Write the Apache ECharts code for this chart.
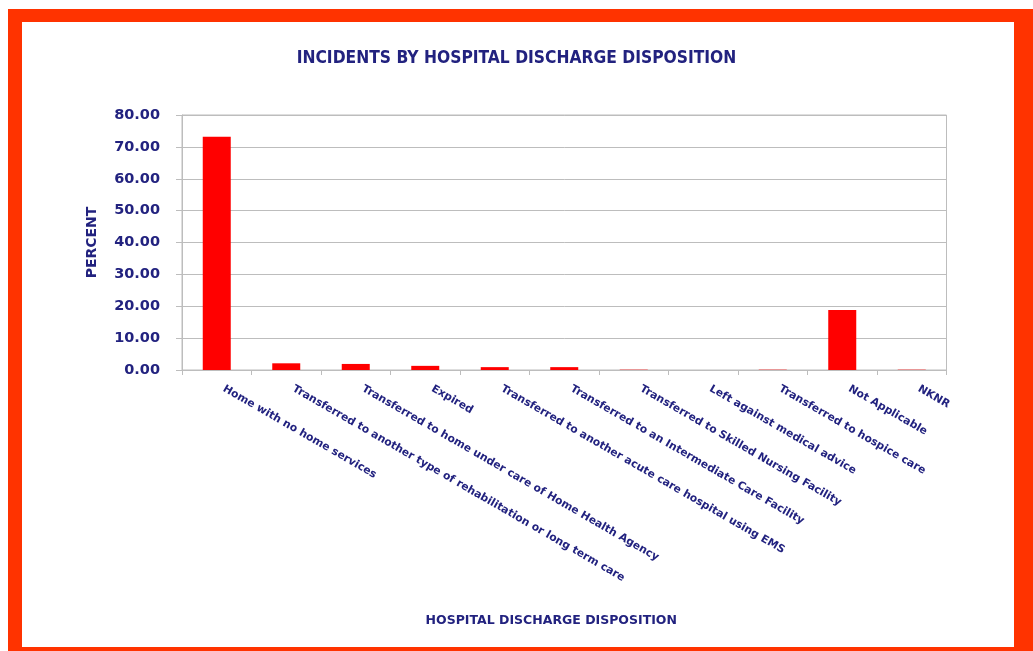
<!DOCTYPE html>
<html>
<head>
<meta charset="utf-8">
<script src="https://cdn.jsdelivr.net/npm/echarts@6/dist/echarts.min.js"></script>
<style>
  html, body { margin: 0; padding: 0; background: #ffffff; }
  #frame { position: absolute; left: 8px; top: 9px; width: 1025px; height: 642px; background: #ff3300; }
  #panel { position: absolute; left: 22px; top: 22px; width: 992px; height: 625px; background: #ffffff; }
  #chart { position: absolute; left: 0; top: 0; width: 1033px; height: 651px; }
</style>
</head>
<body>
<div id="frame"></div>
<div id="panel"></div>
<div id="chart"></div>
<script>
// Discharge disposition categories (x axis)
const categories = [
  'Home with no home services',
  'Transferred to another type of rehabilitation or long term care',
  'Transferred to home under care of Home Health Agency',
  'Expired',
  'Transferred to another acute care hospital using EMS',
  'Transferred to an Intermediate Care Facility',
  'Transferred to Skilled Nursing Facility',
  'Left against medical advice',
  'Transferred to hospice care',
  'Not Applicable',
  'NKNR'
];

// Percent of incidents per disposition
const percentValues = [73.2, 2.1, 1.9, 1.3, 0.9, 0.9, 0.1, 0, 0.1, 18.8, 0.1];

// Y axis range
const yMin = 0;
const yMax = 80;
const yStep = 10;

const navy = '#22227f';
const gridGray = '#bdbdbd';

const chart = echarts.init(document.getElementById('chart'), null, { renderer: 'canvas' });

chart.setOption({
  backgroundColor: 'transparent',
  animation: false,
  title: {
    text: 'INCIDENTS BY HOSPITAL DISCHARGE DISPOSITION',
    left: 'center',
    top: 45,
    textStyle: {
      fontFamily: 'DejaVu Sans Condensed',
      fontWeight: 'bold',
      fontSize: 17.3,
      color: navy
    }
  },
  grid: {
    left: 182,
    right: 86.5,
    top: 115,
    bottom: 281,
    show: true,
    borderColor: gridGray,
    borderWidth: 1,
    backgroundColor: '#ffffff'
  },
  xAxis: {
    type: 'category',
    data: categories,
    name: 'HOSPITAL DISCHARGE DISPOSITION',
    nameLocation: 'middle',
    nameGap: 244,
    nameTextStyle: {
      fontFamily: 'DejaVu Sans',
      fontWeight: 'bold',
      fontSize: 12.5,
      color: navy,
      padding: [0, 26, 0, 0]
    },
    axisLine: { lineStyle: { color: gridGray, width: 1 } },
    axisTick: { show: true, length: 5, lineStyle: { color: gridGray } },
    axisLabel: {
      interval: 0,
      rotate: -30,
      margin: 14,
      padding: [0, 0, 0, 8],
      fontFamily: 'DejaVu Sans',
      fontWeight: 'bold',
      fontSize: 10.8,
      color: navy
    }
  },
  yAxis: {
    type: 'value',
    min: yMin,
    max: yMax,
    interval: yStep,
    name: 'PERCENT',
    nameLocation: 'middle',
    nameRotate: 90,
    nameGap: 83,
    nameTextStyle: {
      fontFamily: 'DejaVu Sans',
      fontWeight: 'bold',
      fontSize: 14,
      color: navy
    },
    axisLine: { show: true, lineStyle: { color: gridGray, width: 1 } },
    axisTick: { show: true, length: 6, lineStyle: { color: gridGray } },
    splitLine: { show: true, lineStyle: { color: gridGray, width: 1 } },
    axisLabel: {
      margin: 22,
      formatter: v => v.toFixed(2),
      fontFamily: 'DejaVu Sans',
      fontWeight: 'bold',
      fontSize: 14.5,
      color: navy
    }
  },
  series: [{
    type: 'bar',
    data: percentValues,
    barWidth: 28,
    itemStyle: { color: '#ff0000' }
  }]
});
</script>
</body>
</html>
